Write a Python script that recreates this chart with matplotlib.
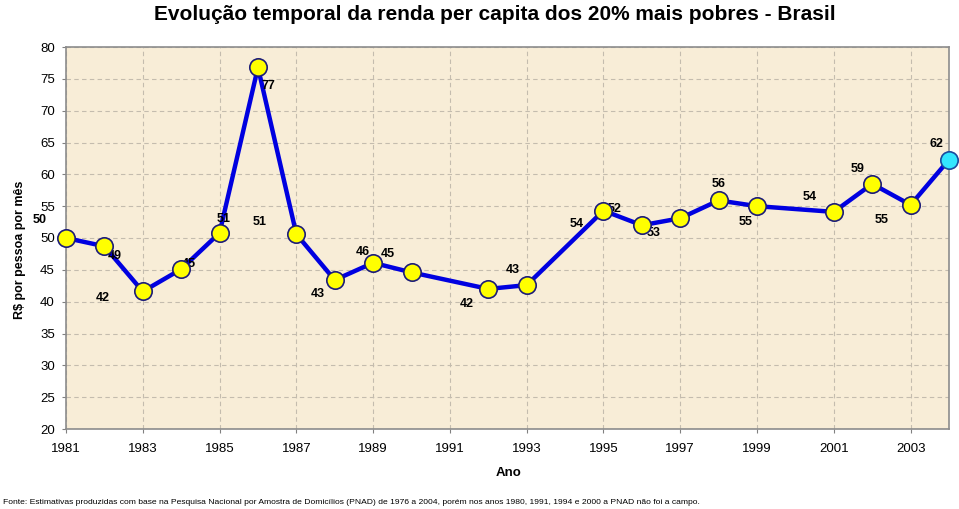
import matplotlib
matplotlib.use("Agg")
import matplotlib.pyplot as plt

plt.rcParams['font.family'] = ['Liberation Sans', 'DejaVu Sans']

years = [1981, 1982, 1983, 1984, 1985, 1986, 1987, 1988, 1989, 1990, 1992,
         1993, 1995, 1996, 1997, 1998, 1999, 2001, 2002, 2003, 2004]
values = [50.0, 48.7, 41.6, 45.1, 50.8, 76.8, 50.6, 43.4, 46.1, 44.6, 42.0,
          42.6, 54.3, 52.0, 53.1, 55.9, 55.0, 54.1, 58.5, 55.2, 62.3]
labels = ["50", "49", "42", "45", "51", "77", "51", "43", "46", "45", "42",
          "43", "54", "52", "53", "56", "55", "54", "59", "55", "62"]
# label offsets in pixels (dx right, dy up) -- layout only
label_offsets = [(-26, 18), (10, -10), (-40, -7), (8, 5), (4, 14), (10, -19),
                 (-37, 12), (-17, -14), (-10, 11), (-24, 18), (-22, -15),
                 (-14, 15), (-27, -13), (-27, 16), (-27, -15), (0, 16),
                 (-11, -16), (-24, 15), (-15, 15), (-29, -15), (-13, 16)]
xticks = list(range(1981, 2004, 2))
yticks = list(range(20, 81, 5))

W, H = 959, 509
fig = plt.figure(figsize=(W / 100, H / 100), dpi=100)
ax = fig.add_axes([66 / W, 1 - 429 / H, (949 - 66) / W, (429 - 47) / H])
ax.set_facecolor('#F8EDD7')

ax.set_xlim(1981, 2004)
ax.set_ylim(20, 80)
ax.set_xticks(xticks)
ax.set_yticks(yticks)
ax.tick_params(labelsize=9.5, length=3, color='#808080')
ax.tick_params(axis='x', pad=7)
ax.tick_params(axis='y', pad=5)

ax.grid(True, color='#C4BCAE', linestyle=(0, (4, 3)), linewidth=0.8)
ax.set_axisbelow(True)
for s in ax.spines.values():
    s.set_color('#8C8C8C')
    s.set_linewidth(1.2)

ax.plot(years, values, color='#0000E0', linewidth=3.2, zorder=3, clip_on=False)
ax.plot(years[:-1], values[:-1], linestyle='none', marker='o', markersize=12.5,
        markerfacecolor='#FFFF00', markeredgecolor='#1C1C78', markeredgewidth=1.2,
        zorder=5, clip_on=False)
ax.plot(years[-1:], values[-1:], linestyle='none', marker='o', markersize=12.5,
        markerfacecolor='#33E6FF', markeredgecolor='#1A4A9E', markeredgewidth=1.2,
        zorder=5, clip_on=False)

for x, y, t, (dx, dy) in zip(years, values, labels, label_offsets):
    ax.annotate(t, (x, y), xytext=(dx * 0.72, dy * 0.72), textcoords='offset points',
                ha='center', va='center', fontsize=9, fontweight='bold', zorder=4,
                annotation_clip=False)

fig.text(495 / W, 1 - 14 / H, 'Evolução temporal da renda per capita dos 20% mais pobres - Brasil',
         ha='center', va='center', fontsize=15, fontweight='bold')
fig.text(20 / W, 1 - 250 / H, r'R\$ por pessoa por mês', rotation=90, ha='center', va='center',
         fontsize=9, fontweight='bold')
fig.text(509 / W, 1 - 473 / H, 'Ano', ha='center', va='center', fontsize=9.5, fontweight='bold')
fig.text(3 / W, 1 - 503 / H,
         'Fonte: Estimativas produzidas com base na Pesquisa Nacional por Amostra de Domicílios (PNAD) de 1976 a 2004, '
         'porém nos anos 1980, 1991, 1994 e 2000 a PNAD não foi a campo.',
         ha='left', va='center', fontsize=6.1)

fig.savefig('out.png', dpi=100)
